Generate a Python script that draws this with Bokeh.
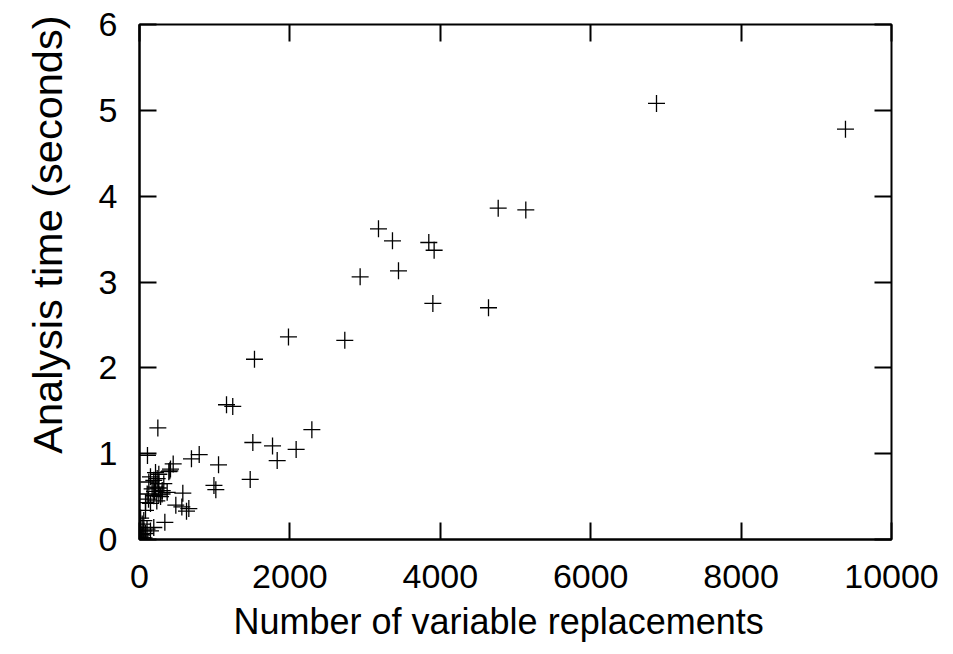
from bokeh.plotting import figure
from bokeh.models import Range1d, LinearAxis, SingleIntervalTicker, Title
from bokeh.embed import file_html
from bokeh.resources import INLINE

# Data: number of variable replacements vs analysis time (seconds)
replacements = [
    9388, 6875, 4770, 5137, 3178, 3364, 3847, 3918, 2934, 3444, 3901, 4641,
    1981, 2730, 1529, 1157, 1240, 2292, 244, 1507, 1769, 2083, 1831, 1472,
    1051, 794, 691, 990, 1015, 576, 483, 563, 656, 625, 337, 448, 412, 403,
    106, 390, 213, 257, 146, 235, 190, 124, 257, 323, 213, 168, 302, 368,
    102, 257, 300, 190, 80, 146, 80, 57, 36, 0, 57, 190, 146, 80, 36, 10,
    30, 0, 5, 60, 20, 100, 15, 120, 200, 250, 280, 230,
]
analysis_time = [
    4.78, 5.08, 3.86, 3.84, 3.62, 3.48, 3.46, 3.37, 3.06, 3.13, 2.75, 2.70,
    2.36, 2.32, 2.10, 1.57, 1.55, 1.28, 1.30, 1.13, 1.09, 1.05, 0.92, 0.70,
    0.87, 0.99, 0.94, 0.63, 0.58, 0.54, 0.40, 0.38, 0.36, 0.33, 0.20, 0.88, 0.82, 0.80,
    0.98, 0.79, 0.78, 0.76, 0.73, 0.71, 0.69, 0.67, 0.65, 0.65, 0.61, 0.59, 0.57, 0.55,
    0.53, 0.52, 0.53, 0.51, 0.43, 0.42, 0.34, 0.22, 0.18, 0.14, 0.10, 0.14, 0.10, 0.07, 0.05, 0.03,
    0.02, 0.01, 0.00, 0.02, 0.06, 0.12, 0.25, 0.47, 0.56, 0.60, 0.50, 0.45,
]

x_label = "Number of variable replacements"
y_label = "Analysis time (seconds)"
x_start, x_end, x_step = 0, 10000, 2000
y_start, y_end, y_step = 0, 6, 1

FONT = "Liberation Sans"

p = figure(width=953, height=654, output_backend="svg", toolbar_location=None,
           x_range=Range1d(x_start, x_end), y_range=Range1d(y_start, y_end),
           min_border_left=139, min_border_right=62, min_border_top=24,
           min_border_bottom=115)
p.grid.visible = False
p.outline_line_color = "black"
p.outline_line_width = 2
p.background_fill_color = "white"
p.border_fill_color = "white"

xt = SingleIntervalTicker(interval=x_step, num_minor_ticks=0)
yt = SingleIntervalTicker(interval=y_step, num_minor_ticks=0)

for ax, t in ((p.xaxis[0], xt), (p.yaxis[0], yt)):
    ax.ticker = t
    ax.major_tick_in = 17
    ax.major_tick_out = 0
    ax.minor_tick_line_color = None
    ax.major_tick_line_width = 2
    ax.major_tick_line_color = "black"
    ax.axis_line_width = 2
    ax.axis_line_color = "black"
    ax.major_label_text_font = FONT
    ax.major_label_text_font_size = "34px"
    ax.major_label_text_color = "black"

p.xaxis[0].major_label_standoff = 25
p.yaxis[0].major_label_standoff = 22

# mirror ticks on top and right
for side, t in (("above", SingleIntervalTicker(interval=x_step, num_minor_ticks=0)),
                ("right", SingleIntervalTicker(interval=y_step, num_minor_ticks=0))):
    a = LinearAxis(ticker=t)
    a.major_tick_in = 17
    a.major_tick_out = 0
    a.minor_tick_line_color = None
    a.major_tick_line_width = 2
    a.major_tick_line_color = "black"
    a.axis_line_color = None
    a.major_label_text_font_size = "1px"
    a.major_label_text_color = None
    a.major_label_standoff = 0
    p.add_layout(a, side)

ytitle = Title(text=y_label, align="right", offset=-9, vertical_align="top",
               text_font=FONT, text_font_size="41.5px", text_font_style="normal",
               text_color="black", standoff=46)
p.add_layout(ytitle, "left")

xtitle = Title(text=x_label, align="left", offset=94, vertical_align="top",
               text_font=FONT, text_font_size="36px", text_font_style="normal",
               text_color="black", standoff=21)
p.add_layout(xtitle, "below")

p.scatter(replacements, analysis_time, marker="cross", size=17,
          line_color="black", line_width=1.3)

open("out.html", "w").write(file_html(p, INLINE))
